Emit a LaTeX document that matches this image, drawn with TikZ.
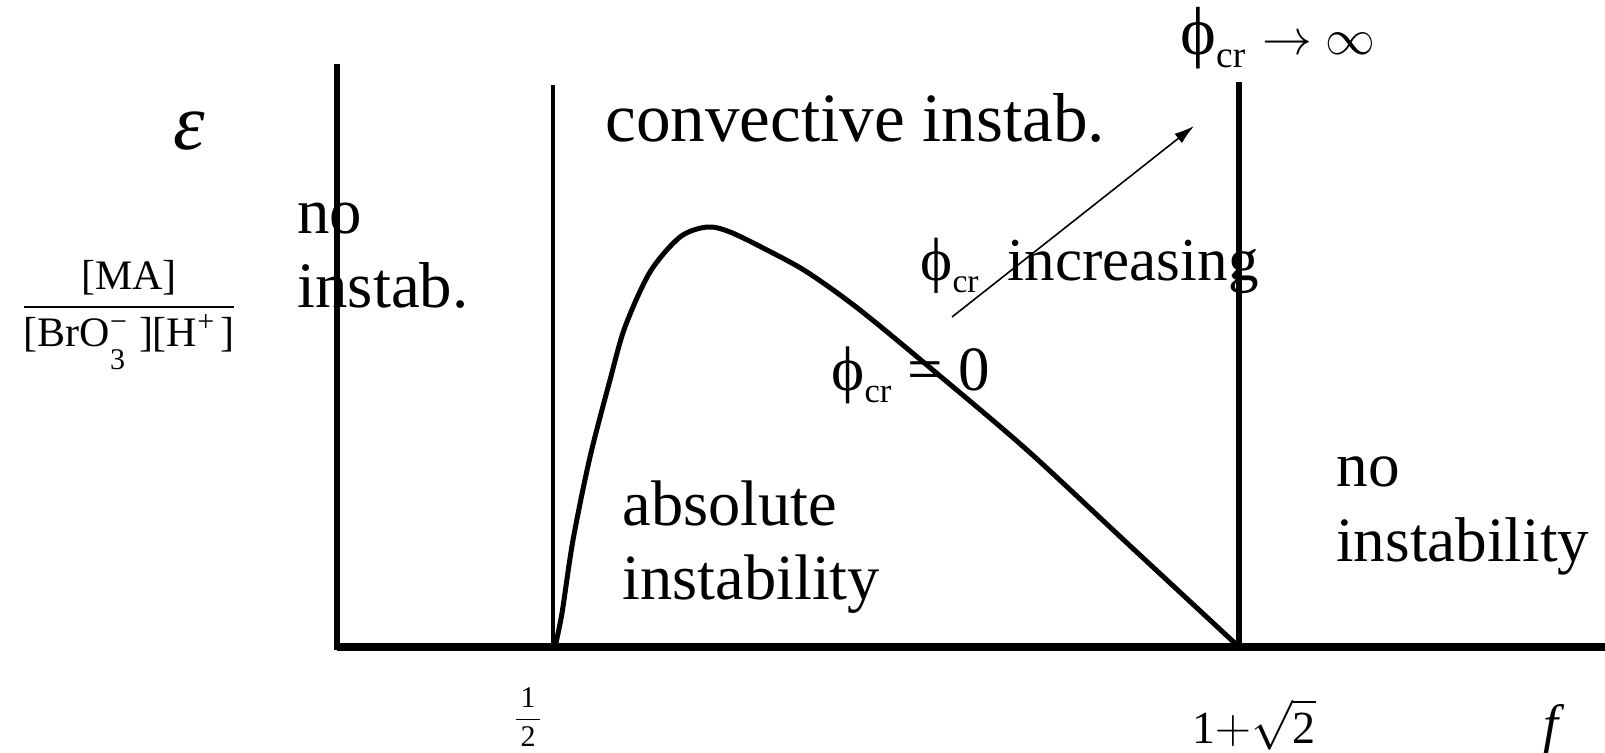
\documentclass[tikz,border=0pt]{standalone}
\usepackage{amsmath}
\usepackage{fontspec}
\setmainfont{Liberation Serif}
\usetikzlibrary{arrows.meta}
\newcommand{\phicr}{ϕ\raisebox{-0.2em}{\scalebox{0.55}{cr}}}
\newcommand{\chemsup}[1]{\raisebox{0.35em}{\fontsize{15}{15}\selectfont #1}}
\newcommand{\chemsub}[1]{\raisebox{-0.55em}{\fontsize{15}{15}\selectfont #1}}

\begin{document}
\begin{tikzpicture}[x=0.5pt, y=-0.5pt,
  lbl/.style={inner sep=0pt, anchor=base west},
  axis/.style={line width=3pt},
  curve/.style={line width=2.5pt, line join=round},
  thinline/.style={line width=1.8pt},
  arrow/.style={-{Latex[length=10pt,width=6pt]}, line width=0.8pt}]
\useasboundingbox (0,0) rectangle (1605,752);
% axes and borders
\coordinate (o) at (337,647);
\coordinate (ytop) at (337,64);
\coordinate (ybot) at (337,650);
\coordinate (xend) at (1605,647);
\coordinate (htop) at (553,85);
\coordinate (hbot) at (553,647);
\coordinate (rtop) at (1239,82);
\coordinate (rbot) at (1239,647);
\draw[axis] (ytop) -- (ybot);
\draw[axis, line width=3.6pt] (o) -- (xend);
\draw[thinline] (htop) -- (hbot);
\draw[axis] (rtop) -- (rbot);
% phi_cr = 0 curve
\draw[curve] plot[smooth, tension=0.5] coordinates {(555,647) (562,613) (573,540) (590,457) (610,380) (625,327) (650,272) (680,237) (707,227) (730,232) (767,250) (807,272) (860,310) (940,376) (1027,450) (1127,543) (1239,647)};
% arrow
\coordinate (atail) at (952,317);
\coordinate (ahead) at (1194,126);
\draw[arrow] (atail) -- (ahead);
% labels
\node[inner sep=0pt, font=\fontsize{40}{40}\selectfont\itshape] (eps) at (189,131) {ε};
\node[inner sep=0pt, font=\fontsize{21}{21}\selectfont] (ratio) at (129,315) {$\displaystyle\frac{\text{[MA]}}{\text{[BrO\rlap{\chemsub{3}}\chemsup{−}\hspace{6pt}][H\chemsup{+}\hspace{3pt}]}}$};
\node[lbl, font=\fontsize{34.6}{34.6}\selectfont] (conv) at (605,141) {convective instab.};
\node[lbl, font=\fontsize{32.4}{32.4}\selectfont] (noa) at (297,233) {no};
\node[lbl, font=\fontsize{32.4}{32.4}\selectfont] (nob) at (297,307) {instab.};
\node[lbl, font=\fontsize{30.5}{30.5}\selectfont] (incr) at (920,280) {\phicr\hspace{7pt} increasing};
\node[lbl, font=\fontsize{31.5}{31.5}\selectfont] (zero) at (831,390) {\phicr{} = 0};
\node[lbl, font=\fontsize{34}{34}\selectfont] (inf) at (1180,54) {\phicr{} $\rightarrow\infty$};
\node[lbl, font=\fontsize{32.2}{32.2}\selectfont] (absa) at (622,525) {absolute};
\node[lbl, font=\fontsize{32.2}{32.2}\selectfont] (absb) at (622,599) {instability};
\node[lbl, font=\fontsize{31.6}{31.6}\selectfont] (nonea) at (1336,486) {no};
\node[lbl, font=\fontsize{31.6}{31.6}\selectfont] (noneb) at (1336,561) {instability};
\node[inner sep=0pt, font=\fontsize{15}{15}\selectfont] (half) at (528,717) {$\displaystyle\frac{\,\text{1}\,}{\,\text{2}\,}$};
\node[inner sep=0pt, anchor=base, font=\fontsize{23}{23}\selectfont] (root) at (1254,743) {\text{1}$+\sqrt{\text{2}}$};
\node[inner sep=0pt, font=\fontsize{27}{27}\selectfont\itshape] (f) at (1551,729) {f};
\end{tikzpicture}
\end{document}
